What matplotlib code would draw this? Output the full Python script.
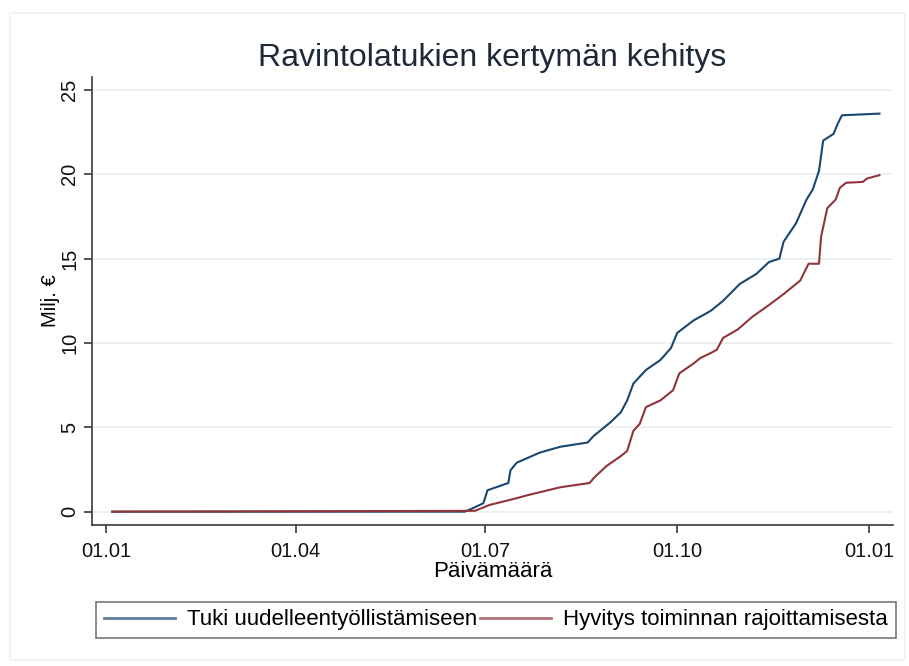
import numpy as np
import pandas as pd
import matplotlib
matplotlib.use('Agg')
import matplotlib.pyplot as plt
import matplotlib.dates as mdates
from matplotlib.patches import Rectangle

# cumulative restaurant support, million euros
tuki_dates = ['2020-01-04', '2020-06-21', '2020-06-24', '2020-06-30', '2020-07-02',
              '2020-07-12', '2020-07-13', '2020-07-16', '2020-07-27', '2020-08-06',
              '2020-08-19', '2020-08-22', '2020-08-30', '2020-09-04', '2020-09-07',
              '2020-09-10', '2020-09-16', '2020-09-23', '2020-09-28', '2020-10-01',
              '2020-10-09', '2020-10-17', '2020-10-23', '2020-10-31', '2020-11-08',
              '2020-11-14', '2020-11-19', '2020-11-21', '2020-11-27', '2020-12-02',
              '2020-12-05', '2020-12-08', '2020-12-10', '2020-12-15', '2020-12-17',
              '2020-12-19', '2021-01-06']
tuki_vals = [0, 0, 0.15, 0.5, 1.27,
             1.7, 2.45, 2.9, 3.5, 3.85,
             4.1, 4.5, 5.3, 5.9, 6.6,
             7.6, 8.4, 9.0, 9.7, 10.6,
             11.35, 11.9, 12.5, 13.5, 14.1,
             14.8, 15.0, 16.0, 17.1, 18.5,
             19.1, 20.2, 22.0, 22.4, 23.0,
             23.5, 23.6]

hyvitys_dates = ['2020-01-04', '2020-06-26', '2020-07-03', '2020-07-16', '2020-07-21',
                 '2020-07-27', '2020-08-06', '2020-08-20', '2020-08-22', '2020-08-28',
                 '2020-09-04', '2020-09-07', '2020-09-10', '2020-09-13', '2020-09-16',
                 '2020-09-23', '2020-09-29', '2020-10-02', '2020-10-09', '2020-10-12',
                 '2020-10-17', '2020-10-20', '2020-10-23', '2020-10-30', '2020-11-06',
                 '2020-11-14', '2020-11-21', '2020-11-25', '2020-11-29', '2020-12-03',
                 '2020-12-08', '2020-12-09', '2020-12-12', '2020-12-16', '2020-12-18',
                 '2020-12-21', '2020-12-29', '2020-12-31', '2021-01-06']
hyvitys_vals = [0, 0.05, 0.4, 0.8, 0.97,
                1.15, 1.45, 1.7, 2.0, 2.7,
                3.3, 3.6, 4.8, 5.2, 6.2,
                6.6, 7.2, 8.2, 8.8, 9.1,
                9.4, 9.6, 10.3, 10.8, 11.55,
                12.25, 12.9, 13.3, 13.7, 14.7,
                14.7, 16.3, 18.0, 18.5, 19.2,
                19.5, 19.55, 19.75, 19.95]

labels = ['Tuki uudelleentyöllistämiseen', 'Hyvitys toiminnan rajoittamisesta']
tick_dates = ['2020-01-01', '2020-04-01', '2020-07-01', '2020-10-01', '2021-01-01']
y_ticks = [0, 5, 10, 15, 20, 25]

plt.rcParams['font.family'] = ['Liberation Sans', 'DejaVu Sans']

W, H = 909, 666
fig = plt.figure(figsize=(W / 100, H / 100), dpi=100)
fig.patches.append(Rectangle((10 / W, 6 / H), 895 / W, 647 / H, transform=fig.transFigure,
                             fill=False, edgecolor='#eef2f5', linewidth=1.2))

ax = fig.add_axes([92 / W, 1 - 525 / H, 801 / W, 448 / H])

ax.plot(pd.to_datetime(tuki_dates), tuki_vals, color='#1a476f', lw=1.5, label=labels[0])
ax.plot(pd.to_datetime(hyvitys_dates), hyvitys_vals, color='#90353b', lw=1.5, label=labels[1])

start = mdates.date2num(pd.Timestamp('2020-01-01'))
ax.set_xlim(start - 6.7, start + 377.5)
ax.set_ylim(-0.79, 25.77)

ax.set_xticks(pd.to_datetime(tick_dates))
ax.xaxis.set_major_formatter(mdates.DateFormatter('%d.%m'))
ax.set_yticks(y_ticks)
ax.set_yticklabels([str(v) for v in y_ticks], rotation=90, va='center')

ax.grid(axis='y', color='#e9f0f2', lw=1.3)
ax.set_axisbelow(True)
for s in ['top', 'right']:
    ax.spines[s].set_visible(False)
for s in ['left', 'bottom']:
    ax.spines[s].set_color('#3a3a3a')
    ax.spines[s].set_linewidth(1.2)
ax.tick_params(axis='both', length=6, width=1.2, color='#3a3a3a', labelsize=14.5, labelcolor='#111111')
ax.tick_params(axis='y', pad=3)
ax.tick_params(axis='x', pad=6)

ax.set_title('Ravintolatukien kertymän kehitys', fontsize=23, color='#1e2a3a', pad=8)
ax.set_xlabel('Päivämäärä', fontsize=16, labelpad=0)
ax.set_ylabel('Milj. €', fontsize=14.5)
ax.yaxis.set_label_coords(-0.04, 0.5)

leg = fig.legend(loc='center', bbox_to_anchor=(496 / W, 1 - 620 / H),
                 ncol=2, fontsize=16, frameon=True, fancybox=False,
                 handlelength=3.2, handletextpad=0.55, columnspacing=0.1,
                 borderpad=0.35, borderaxespad=0)
leg.get_frame().set_edgecolor('#555555')
leg.get_frame().set_linewidth(1.2)
for h in leg.get_lines():
    h.set_alpha(0.7)
    h.set_linewidth(2)

fig.savefig('out.png', dpi=100)
